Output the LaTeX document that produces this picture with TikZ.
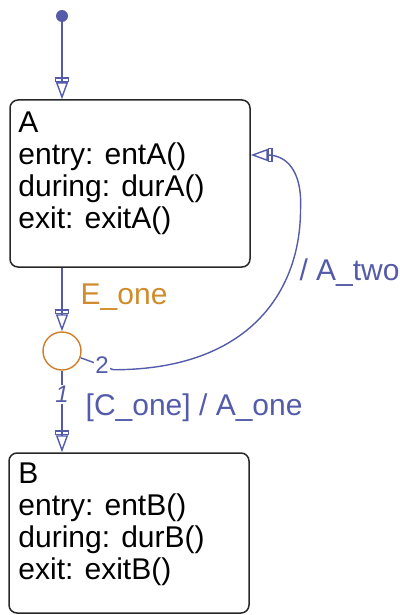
\documentclass[tikz,border=0pt]{standalone}
\usepackage{fontspec}
\setmainfont{Liberation Sans}
\usetikzlibrary{arrows.meta,positioning,calc}
\definecolor{sfblue}{RGB}{84,92,170}
\definecolor{sforange}{RGB}{204,126,40}
\definecolor{sfgold}{RGB}{208,140,44}
\definecolor{sfframe}{RGB}{40,40,40}
\tikzset{
  sfstate/.style={draw=sfframe, line width=1.5pt, rounded corners=8pt,
    minimum width=240pt, inner sep=0pt},
  statetext/.style={anchor=north west, align=left, inner sep=0pt,
    font=\fontsize{30}{32}\selectfont},
  junction/.style={circle, draw=sforange, line width=1.4pt, minimum size=38pt, inner sep=0pt},
  initdot/.style={circle, fill=sfblue, minimum size=12pt, inner sep=0pt},
  trans/.style={draw=sfblue, line width=1.4pt,
    -{Rectangle[open,length=5pt,width=14pt,sep=0pt]Triangle[open,length=17pt,width=12pt]}},
  evlabel/.style={font=\fontsize{30}{32}\selectfont, text=sfgold, inner sep=0pt},
  actlabel/.style={font=\fontsize{30}{32}\selectfont, text=sfblue, inner sep=0pt},
  numlabel/.style={font=\fontsize{24}{24}\selectfont, text=sfblue, fill=white, inner sep=1pt}
}
\begin{document}
\begin{tikzpicture}[x=1pt, y=-1pt]
  \useasboundingbox (0,0) rectangle (399,615);
  \node[initdot] (init) at (62,16) {};
  \node[sfstate, minimum height=167pt] (A) at (130,183.5) {};
  \node[statetext] (Atext) at ([shift={(9pt,-12.5pt)}]A.north west)
    {A\\entry: entA()\\during: durA()\\exit: exitA()};
  \node[junction] (junc) at (62,351) {};
  \node[sfstate, minimum height=160pt] (B) at (129,533) {};
  \node[statetext] (Btext) at ([shift={(10pt,-10.5pt)}]B.north west)
    {B\\entry: entB()\\during: durB()\\exit: exitB()};
  % transitions
  \draw[trans] (init) -- (init |- A.north);
  \draw[trans] (junc |- A.south) -- node[evlabel, right=18pt, pos=.47] (ev) {E\_one} (junc);
  \draw[trans] (junc) -- node[numlabel, pos=.29] (n1) {\itshape 1}
    node[actlabel, right=23pt, pos=.46] (act1) {[C\_one] / A\_one} (junc |- B.north);
  \draw[trans] (junc.-20) -- node[numlabel, pos=.65] (n2) {2} ++(33,12)
    .. controls +(137,0) and +(0,80) .. node[actlabel, pos=.73, right=10pt] (act2) {/ A\_two} ++(187,-160)
    .. controls +(2,-40) and +(35,0) .. ([yshift=28.5pt]A.east);
\end{tikzpicture}
\end{document}
